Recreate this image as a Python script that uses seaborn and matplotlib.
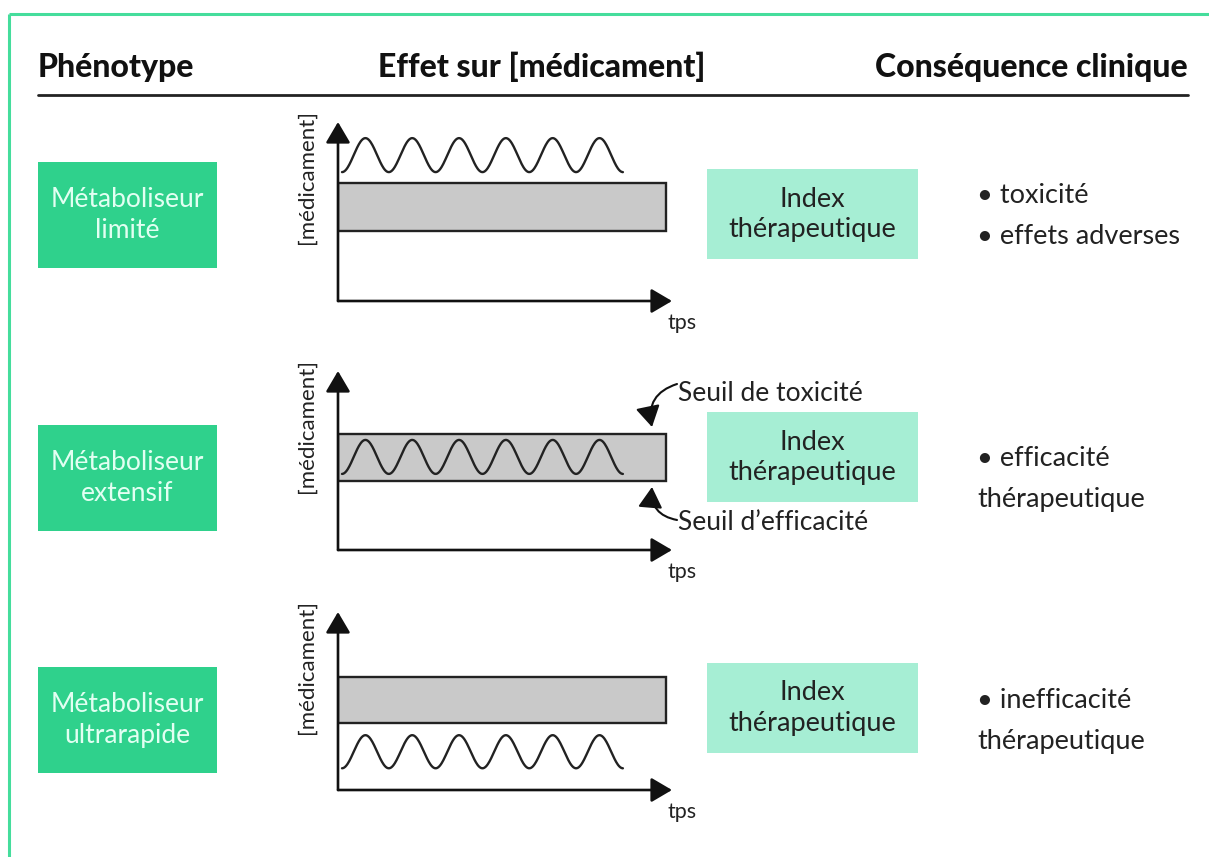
import numpy as np
import seaborn as sns
import matplotlib.pyplot as plt
from matplotlib.patches import Rectangle

# Phenotypes and clinical consequences (one entry per row)
phenotypes = ["Métaboliseur\nlimité", "Métaboliseur\nextensif", "Métaboliseur\nultrarapide"]
consequences = [["• toxicité", "• effets adverses"],
                ["• efficacité", "thérapeutique"],
                ["• inefficacité", "thérapeutique"]]
headers = ["Phénotype", "Effet sur [médicament]", "Conséquence clinique"]
index_label = "Index\nthérapeutique"

# Therapeutic window (relative drug concentration) for each row
seuil_efficacite = [0.39, 0.385, 0.376]
seuil_toxicite = [0.66, 0.648, 0.635]
# Drug concentration oscillation: mean level and amplitude
conc_moyenne = [0.815, 0.52, 0.215]
conc_amplitude = [0.095, 0.095, 0.093]
n_doses = 6

# Layout (pixels of a 1209x857 picture)
W, H = 1209, 857
row_xaxis = [301, 550, 790]
row_top = [122, 371, 612]
green_top = [162, 425, 667]
light_mid = [214, 457, 708]

GREEN = "#2fd18c"
LIGHT = "#a6eed4"
INK = "#222222"

sns.set_theme(style="white")
plt.rcParams["font.family"] = ["Lato", "DejaVu Sans"]

fig = plt.figure(figsize=(W / 100, H / 100), dpi=100)
ov = fig.add_axes([0, 0, 1, 1])
ov.set_xlim(0, W)
ov.set_ylim(H, 0)
ov.axis("off")

# green frame (top and left)
ov.plot([9, W], [14, 14], color="#45dd9c", lw=2.2, solid_capstyle="butt")
ov.plot([9, 9], [14, H], color="#45dd9c", lw=2.2, solid_capstyle="butt")

# header
hdr = dict(fontsize=23, fontweight="black", va="center", color="#111")
ov.text(38, 67, headers[0], ha="left", **hdr)
ov.text(378, 67, headers[1], ha="left", **hdr)
ov.text(1188, 67, headers[2], ha="right", **hdr)
ov.plot([38, 1188], [95, 95], color=INK, lw=2)

txt = dict(fontweight="normal", color=INK)

for i in range(3):
    # phenotype box
    ov.add_patch(Rectangle((38, green_top[i]), 179, 106, facecolor=GREEN, edgecolor="none"))
    ov.text(38 + 179 / 2, green_top[i] + 53, phenotypes[i], fontsize=19, fontweight="normal",
            color="#e2fff2", ha="center", va="center", linespacing=1.3)

    # therapeutic index box
    ov.add_patch(Rectangle((707, light_mid[i] - 45), 211, 90, facecolor=LIGHT, edgecolor="none"))
    ov.text(812, light_mid[i], index_label, fontsize=19.5, ha="center", va="center",
            linespacing=1.25, **txt)

    # clinical consequence
    mid = green_top[i] + 53
    ov.text(977, mid - 20, consequences[i][0], fontsize=19.5, va="center", **txt)
    ov.text(977, mid + 21, consequences[i][1], fontsize=19.5, va="center", **txt)

    # little concentration/time plot
    x0, x1 = 338, 672
    ax = fig.add_axes([x0 / W, 1 - row_xaxis[i] / H, (x1 - x0) / W, (row_xaxis[i] - row_top[i]) / H])
    ax.set_xlim(0, 1)
    ax.set_ylim(0, 1)
    ax.axis("off")
    arrow = dict(arrowstyle="-|>,head_length=0.85,head_width=0.5", lw=1.9, color="#111",
                 mutation_scale=15, shrinkA=0, shrinkB=0)
    ax.annotate("", xy=(1, 0), xytext=(0, 0), arrowprops=arrow, annotation_clip=False)
    ax.annotate("", xy=(0, 1), xytext=(0, 0), arrowprops=arrow, annotation_clip=False)

    ax.add_patch(Rectangle((0, seuil_efficacite[i]), 0.982, seuil_toxicite[i] - seuil_efficacite[i],
                           facecolor="#c9c9c9", edgecolor=INK, lw=1.7, zorder=2))
    t = np.linspace(0.012, 0.853, 500)
    phase = (t - t[0]) / (t[-1] - t[0]) * n_doses
    conc = conc_moyenne[i] - conc_amplitude[i] * np.cos(2 * np.pi * phase)
    sns.lineplot(x=t, y=conc, ax=ax, color=INK, lw=1.7, zorder=3)

    ov.text(667, row_xaxis[i] + 22, "tps", fontsize=15.5, va="center", **txt)
    ov.text(307, row_top[i] - 12, "[médicament]", fontsize=16, rotation=90,
            ha="center", va="top", **txt)

# thresholds annotations (middle row)
ov.text(678, 393, "Seuil de toxicité", fontsize=19, va="center", **txt)
ov.text(678, 522, "Seuil d’efficacité", fontsize=19, va="center", **txt)
ann = dict(arrowstyle="-|>,head_length=0.85,head_width=0.5", lw=1.5, color="#111",
           mutation_scale=15, shrinkA=0, shrinkB=0)
ov.annotate("", xy=(652, 427), xytext=(677, 384),
            arrowprops=dict(ann, connectionstyle="arc3,rad=0.45"))
ov.annotate("", xy=(652, 487), xytext=(677, 520),
            arrowprops=dict(ann, connectionstyle="arc3,rad=-0.45"))

fig.savefig("out.png", dpi=100)
